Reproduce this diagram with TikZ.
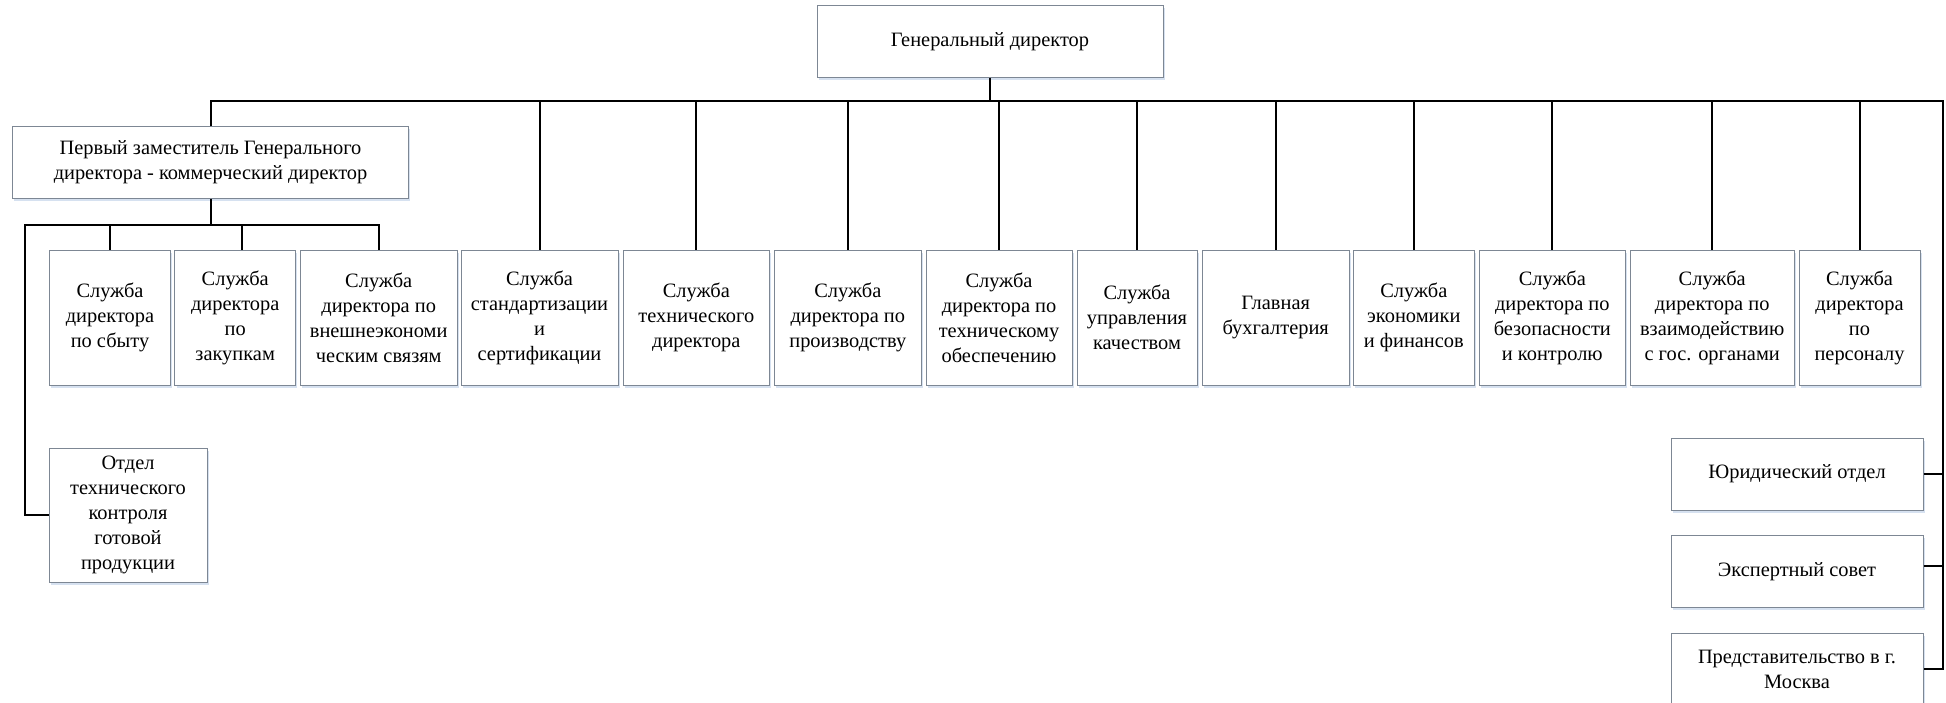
\documentclass[tikz,border=0pt]{standalone}
\usepackage{fontspec}
\setmainfont{Liberation Serif}
\usetikzlibrary{shadows}
\definecolor{boxline}{RGB}{125,135,148}
\definecolor{shadowc}{RGB}{196,212,234}
\tikzset{
  box/.style={draw=boxline, line width=0.5pt, fill=white, align=center, inner sep=1pt,
    font=\fontsize{10.2}{12.5}\selectfont,
    drop shadow={shadow xshift=0.8pt, shadow yshift=-1.3pt, fill=shadowc, opacity=0.7}},
  link/.style={line width=1pt, black, line join=miter},
}
\begin{document}
\begin{tikzpicture}[x=0.5pt, y=-0.5pt]
\useasboundingbox (0,0) rectangle (1946,702);
% top
\node[box, minimum width=173pt, minimum height=35.75pt] (gd) at (990,41.5) {Генеральный директор};
\node[box, minimum width=198pt, minimum height=35.75pt] (dep) at (210.5,162.5) {Первый заместитель Генерального\\директора - коммерческий директор};
% row
\tikzset{rowbox/.style={box, minimum height=67.5pt}}
\node[rowbox, minimum width=60.5pt]  (r1)  at (110,317.5)   {Служба\\директора\\по сбыту};
\node[rowbox, minimum width=60.25pt] (r2)  at (235.2,317.5) {Служба\\директора\\по\\закупкам};
\node[rowbox, minimum width=78.3pt]  (r3)  at (378.7,317.5) {Служба\\директора по\\внешнеэкономи\\ческим связям};
\node[rowbox, minimum width=78.5pt]  (r4)  at (539.5,317.5) {Служба\\стандартизации\\и\\сертификации};
\node[rowbox, minimum width=73.3pt]  (r5)  at (696.3,317.5) {Служба\\технического\\директора};
\node[rowbox, minimum width=73.25pt] (r6)  at (847.8,317.5) {Служба\\директора по\\производству};
\node[rowbox, minimum width=73pt]    (r7)  at (999,317.5)   {Служба\\директора по\\техническому\\обеспечению};
\node[rowbox, minimum width=60pt]    (r8)  at (1137,317.5)  {Служба\\управления\\качеством};
\node[rowbox, minimum width=73.7pt]  (r9)  at (1275.7,317.5){Главная\\бухгалтерия};
\node[rowbox, minimum width=60.2pt]  (r10) at (1413.8,317.5){Служба\\экономики\\и финансов};
\node[rowbox, minimum width=73.25pt] (r11) at (1552.3,317.5){Служба\\директора по\\безопасности\\и контролю};
\node[rowbox, minimum width=82.2pt]  (r12) at (1712.2,317.5){Служба\\директора по\\взаимодействию\\с гос. органами};
\node[rowbox, minimum width=60.5pt]  (r13) at (1859.5,317.5){Служба\\директора\\по\\персоналу};
% lower
\node[box, minimum width=79pt, minimum height=67pt] (otk) at (128,515) {Отдел\\технического\\контроля\\готовой\\продукции};
\node[box, minimum width=126pt, minimum height=36pt] (jur) at (1797,474) {Юридический отдел};
\node[box, minimum width=126pt, minimum height=35.75pt] (exp) at (1797,571.5) {Экспертный совет};
\node[box, minimum width=126pt, minimum height=36pt] (pred) at (1797,669) {Представительство в г.\\Москва};
% connectors
\coordinate (bus) at (0,101);
\coordinate (busR) at (1942.5,101);
\coordinate (sub) at (24.5,225);
\draw[link] (gd.south) -- (gd.south |- bus);
\draw[link] (dep.north) -- (dep.north |- bus) -- (busR) -- (busR |- pred.east) -- (pred.east);
\foreach \n in {r4,r5,r6,r7,r8,r9,r10,r11,r12,r13}
  \draw[link] (\n.north) -- (\n.north |- bus);
\draw[link] (jur.east) -- (jur.east -| busR);
\draw[link] ([yshift=3pt]exp.east) -- ([yshift=3pt]exp.east -| busR);
\draw[link] (dep.south) -- (dep.south |- sub);
\draw[link] (otk.west) -| (sub) -- (sub -| r3.north) -- (r3.north);
\draw[link] (r1.north) -- (r1.north |- sub);
\draw[link] ([xshift=3.15pt]r2.north) -- ([xshift=3.15pt]r2.north |- sub);
\end{tikzpicture}
\end{document}
